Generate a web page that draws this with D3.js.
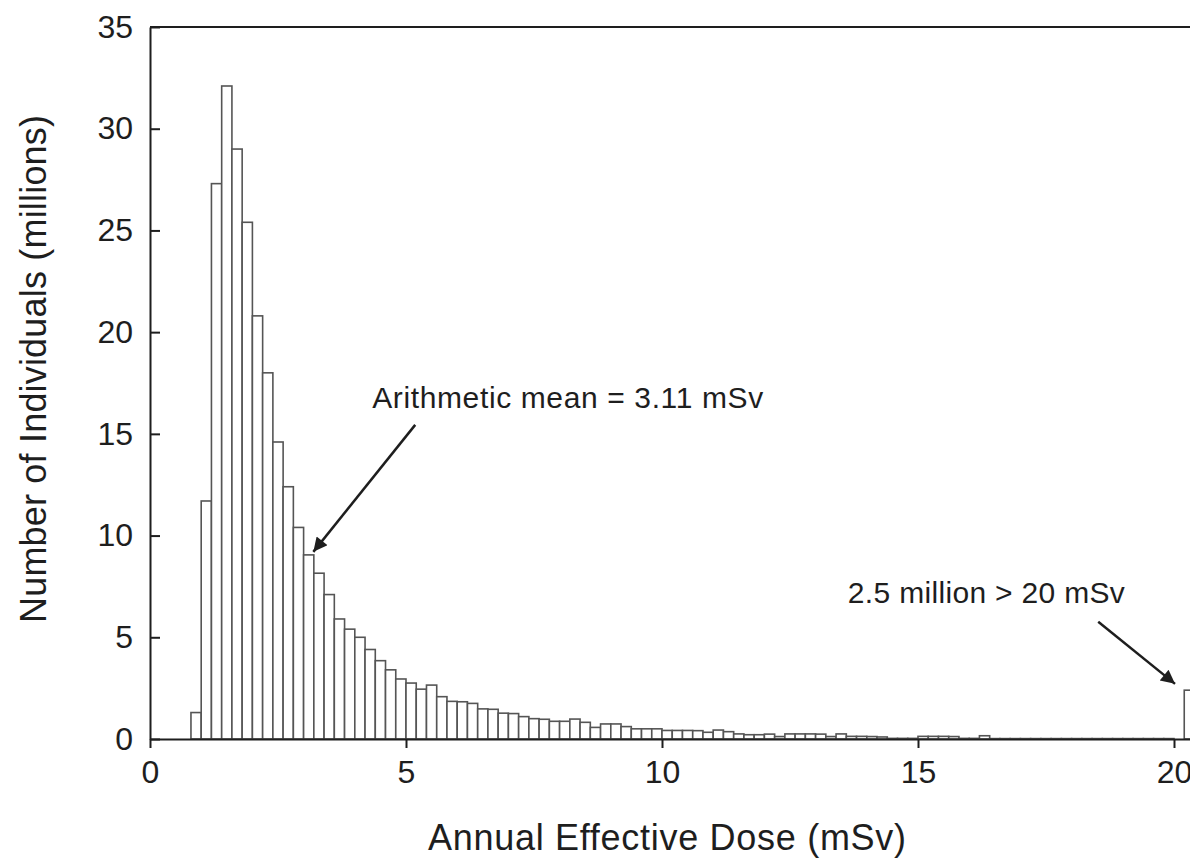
<!DOCTYPE html>
<html>
<head>
<meta charset="utf-8">
<script src="https://cdn.jsdelivr.net/npm/d3@7"></script>
<style>
  html, body { margin: 0; padding: 0; background: #fff; overflow: hidden; }
  svg { display: block; font-family: "Liberation Sans", Arial, Helvetica, sans-serif; }
</style>
</head>
<body>
<svg id="chart" width="1190" height="859"></svg>
<script>
// ---- Data ----
const binStart = [0.8,1.0,1.2,1.4,1.6,1.8,2.0,2.2,2.4,2.6,2.8,3.0,3.2,3.4,3.6,3.8,4.0,4.2,4.4,4.6,4.8,
  5.0,5.2,5.4,5.6,5.8,6.0,6.2,6.4,6.6,6.8,7.0,7.2,7.4,7.6,7.8,8.0,8.2,8.4,8.6,8.8,9.0,9.2,9.4,9.6,9.8,
  10.0,10.2,10.4,10.6,10.8,11.0,11.2,11.4,11.6,11.8,12.0,12.2,12.4,12.6,12.8,13.0,13.2,13.4,13.6,13.8,
  14.0,14.2,14.4,14.6,14.8,15.0,15.2,15.4,15.6,15.8,16.0,16.2,16.4,16.6,16.8,17.0,17.2,17.4,17.6,17.8,
  18.0,18.2,18.4,18.6,18.8,19.0,19.2,19.4,19.6,19.8];
const individualsMillions = [1.3,11.7,27.3,32.1,29.0,25.4,20.8,18.0,14.6,12.4,10.4,9.05,8.15,7.1,5.9,5.4,5.0,4.4,3.85,3.4,2.95,
  2.75,2.45,2.65,2.08,1.85,1.83,1.75,1.48,1.46,1.27,1.25,1.1,1.0,0.97,0.87,0.87,0.98,0.82,0.57,0.74,0.74,0.61,0.5,0.5,0.5,
  0.42,0.42,0.42,0.41,0.33,0.44,0.36,0.25,0.21,0.21,0.24,0.12,0.25,0.25,0.25,0.24,0.12,0.25,0.13,0.13,
  0.12,0.1,0.03,0.03,0.03,0.13,0.13,0.13,0.12,0.03,0.03,0.16,0.02,0.02,0.02,0.02,0.02,0.02,0.02,0.02,
  0.02,0.02,0.02,0.02,0.02,0.02,0.02,0.02,0.02,0.02];
const binWidth = 0.2;
const overflowBin = { start: 20.2, value: 2.4 };   // "2.5 million > 20 mSv"
const xTicks = [0, 5, 10, 15, 20];
const yTicks = [0, 5, 10, 15, 20, 25, 30, 35];
const xTitle = "Annual Effective Dose (mSv)";
const yTitle = "Number of Individuals (millions)";
const annotations = [
  { text: "Arithmetic mean = 3.11 mSv", x: 4.34, y: 16.27, len: 391, from: [5.18, 15.44], to: [3.19, 9.2] },
  { text: "2.5 million > 20 mSv", x: 13.63, y: 6.69, len: 277, from: [18.52, 5.76], to: [20.02, 2.71] }
];

// ---- Layout ----
const svg = d3.select("#chart");
const plotLeft = 150, plotTop = 27, plotBottom = 739;
const xMax = 20.4;
const x = d3.scaleLinear().domain([0, xMax]).range([plotLeft, plotLeft + xMax * 51.2]);
const y = d3.scaleLinear().domain([0, 35]).range([plotBottom, plotTop]);
const ink = "#1e1e1e";

const bins = binStart.map((s, i) => ({ start: s, value: individualsMillions[i] }));
bins.push(overflowBin);

// bars
svg.append("g").selectAll("rect").data(bins).join("rect")
  .attr("x", d => x(d.start))
  .attr("y", d => y(d.value))
  .attr("width", d => x(d.start + binWidth) - x(d.start))
  .attr("height", d => y(0) - y(d.value))
  .attr("fill", "#fff")
  .attr("stroke", "#555")
  .attr("stroke-width", 1.6);

// frame: top line
svg.append("line")
  .attr("x1", x(0)).attr("x2", x(xMax))
  .attr("y1", y(35)).attr("y2", y(35))
  .attr("stroke", ink).attr("stroke-width", 2);

// y axis (ticks inward)
const yAxis = svg.append("g").attr("transform", `translate(${x(0)},0)`)
  .call(d3.axisLeft(y).tickValues(yTicks).tickSize(-10).tickPadding(17).tickSizeOuter(0));
// x axis (ticks outward)
const xAxis = svg.append("g").attr("transform", `translate(0,${y(0)})`)
  .call(d3.axisBottom(x).tickValues(xTicks).tickSize(9).tickPadding(12).tickSizeOuter(0));

[yAxis, xAxis].forEach(g => {
  g.select(".domain").attr("stroke", ink).attr("stroke-width", 2);
  g.selectAll(".tick line").attr("stroke", ink).attr("stroke-width", 2);
  g.selectAll(".tick text").attr("fill", ink).style("font-size", "32px")
    .style("font-family", "'Liberation Sans', Arial, sans-serif");
});

// axis titles
svg.append("text")
  .attr("x", 667).attr("y", 850)
  .attr("text-anchor", "middle")
  .attr("textLength", 478).attr("lengthAdjust", "spacing")
  .style("font-size", "36px").attr("fill", ink)
  .text(xTitle);

svg.append("text")
  .attr("transform", "translate(46,369) rotate(-90)")
  .attr("text-anchor", "middle")
  .attr("textLength", 508).attr("lengthAdjust", "spacing")
  .style("font-size", "36px").attr("fill", ink)
  .text(yTitle);

// arrowhead marker
svg.append("defs").append("marker")
  .attr("id", "arrow").attr("viewBox", "0 0 10 10")
  .attr("refX", 10).attr("refY", 5)
  .attr("markerUnits", "userSpaceOnUse")
  .attr("markerWidth", 20).attr("markerHeight", 14)
  .attr("orient", "auto")
  .append("path").attr("d", "M0,0 L10,5 L0,10 Z").attr("fill", ink);

// annotations
const ann = svg.append("g");
ann.selectAll("text").data(annotations).join("text")
  .attr("x", d => x(d.x)).attr("y", d => y(d.y))
  .attr("textLength", d => d.len).attr("lengthAdjust", "spacing")
  .style("font-size", "30px").attr("fill", ink)
  .text(d => d.text);
ann.selectAll("line").data(annotations).join("line")
  .attr("x1", d => x(d.from[0])).attr("y1", d => y(d.from[1]))
  .attr("x2", d => x(d.to[0])).attr("y2", d => y(d.to[1]))
  .attr("stroke", ink).attr("stroke-width", 2.5)
  .attr("marker-end", "url(#arrow)");
</script>
</body>
</html>
